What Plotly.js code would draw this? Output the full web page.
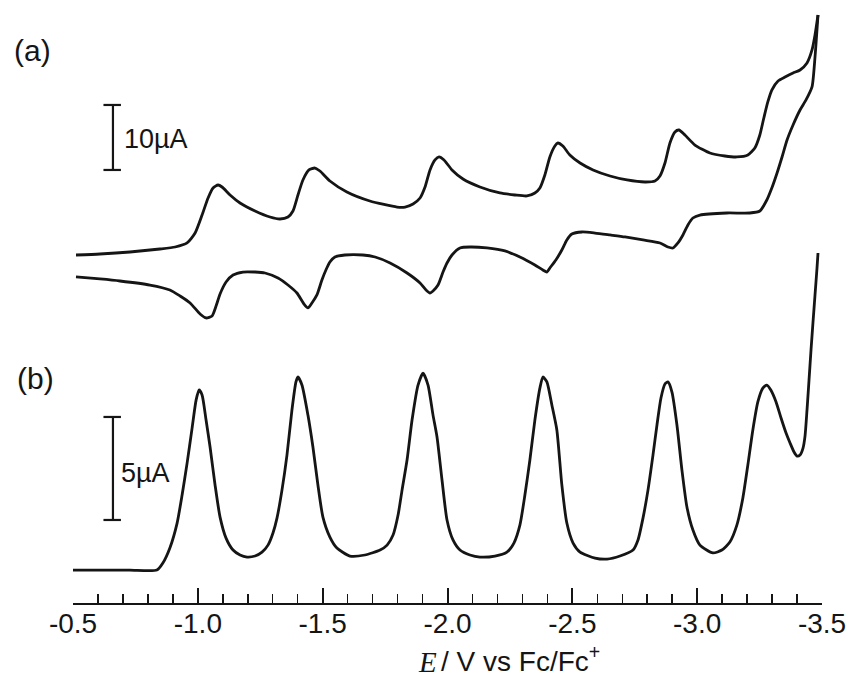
<!DOCTYPE html>
<html>
<head>
<meta charset="utf-8">
<script src="https://cdn.plot.ly/plotly-3.0.1.min.js"></script>
<style>html,body{margin:0;padding:0;background:#fff;}#chart{width:854px;height:677px;}</style>
</head>
<body>
<div id="chart"></div>
<script>
// ---- Data (E in V vs Fc/Fc+, currents in µA) ----
const tickValues = [-0.5, -1.0, -1.5, -2.0, -2.5, -3.0, -3.5];
const tickLabels = ['-0.5', '-1.0', '-1.5', '-2.0', '-2.5', '-3.0', '-3.5'];

// (a) Cyclic voltammogram, forward (cathodic) scan
const cvForwardE = [-0.512,-0.608,-0.728,-0.848,-0.909,-0.957,-0.989,-1.017,-1.041,-1.061,
  -1.081,-1.097,-1.129,-1.169,-1.229,-1.289,-1.329,-1.361,-1.381,-1.401,
  -1.421,-1.445,-1.469,-1.489,-1.529,-1.597,-1.689,-1.798,-1.830,-1.862,
  -1.890,-1.910,-1.930,-1.950,-1.966,-1.986,-2.018,-2.062,-2.130,-2.210,
  -2.270,-2.318,-2.350,-2.370,-2.390,-2.410,-2.430,-2.442,-2.462,-2.490,
  -2.531,-2.583,-2.651,-2.719,-2.791,-2.831,-2.851,-2.871,-2.891,-2.911,
  -2.927,-2.951,-2.991,-3.051,-3.111,-3.159,-3.203,-3.231,-3.251,-3.267,
  -3.283,-3.299,-3.324,-3.352,-3.384,-3.412,-3.440,-3.460,-3.472,-3.484];
const cvForwardI = [0,0.15,0.46,0.92,1.23,1.85,3.38,6.15,8.77,10.31,
  10.77,10.46,9.23,8.0,6.77,5.85,5.54,5.85,6.77,9.23,
  11.54,13.08,13.38,12.92,11.38,9.69,8.31,7.38,7.38,7.85,
  8.77,10.46,13.08,14.62,15.08,14.62,13.08,11.69,10.46,9.54,
  9.23,9.08,9.54,10.31,12.31,15.08,16.77,17.23,16.77,15.38,
  14.15,13.08,12.15,11.54,11.23,11.38,12.15,14.15,17.23,18.92,
  19.23,18.46,16.92,15.69,15.23,15.08,15.38,16.46,18.46,21.08,
  23.54,25.38,26.77,27.38,28.0,28.46,29.54,31.54,33.85,36.92];

// (a) Cyclic voltammogram, reverse (anodic) scan
const cvReverseE = [-3.484,-3.472,-3.460,-3.436,-3.412,-3.384,-3.360,-3.340,-3.320,-3.299,
  -3.279,-3.251,-3.211,-3.119,-3.011,-2.983,-2.963,-2.943,-2.923,-2.903,
  -2.883,-2.851,-2.783,-2.711,-2.651,-2.591,-2.539,-2.498,-2.478,-2.458,
  -2.434,-2.410,-2.398,-2.382,-2.350,-2.290,-2.230,-2.158,-2.090,-2.050,
  -2.018,-1.998,-1.982,-1.962,-1.942,-1.930,-1.914,-1.890,-1.838,-1.770,
  -1.710,-1.661,-1.589,-1.549,-1.529,-1.513,-1.497,-1.477,-1.457,-1.441,
  -1.425,-1.397,-1.361,-1.321,-1.269,-1.229,-1.181,-1.141,-1.113,-1.089,
  -1.073,-1.057,-1.033,-1.009,-0.969,-0.929,-0.888,-0.808,-0.688,-0.608,-0.512];
const cvReverseI = [36.92,30.46,25.85,23.85,22.31,20.0,17.69,15.08,12.62,10.31,
  8.46,6.77,6.46,6.46,6.15,5.69,4.62,3.08,1.85,1.08,
  1.23,1.85,2.31,2.77,3.08,3.38,3.54,3.23,2.31,0.77,
  -0.77,-2.0,-2.62,-2.31,-1.54,-0.31,0.62,1.08,1.23,1.08,
  0,-1.23,-2.62,-4.62,-5.54,-5.85,-5.38,-4.31,-2.77,-1.23,
  -0.31,0,0,-0.31,-1.08,-2.31,-3.85,-6.15,-7.38,-8.15,
  -7.54,-5.85,-4.62,-3.54,-2.77,-2.62,-2.62,-3.08,-4.15,-6.0,
  -7.85,-9.38,-9.69,-9.08,-7.38,-6.31,-5.38,-4.62,-4.0,-3.69,-3.38];

// (b) Differential pulse voltammogram
const dpvE = [-0.500,-0.608,-0.728,-0.836,-0.860,-0.888,-0.917,-0.937,-0.957,-0.977,
  -0.993,-1.005,-1.017,-1.033,-1.049,-1.069,-1.089,-1.113,-1.141,-1.169,
  -1.197,-1.229,-1.257,-1.281,-1.301,-1.317,-1.337,-1.357,-1.377,-1.393,
  -1.401,-1.417,-1.441,-1.461,-1.481,-1.501,-1.529,-1.557,-1.609,-1.669,
  -1.730,-1.758,-1.782,-1.802,-1.818,-1.838,-1.858,-1.882,-1.902,-1.922,
  -1.942,-1.958,-1.978,-1.998,-2.022,-2.050,-2.090,-2.130,-2.190,-2.238,
  -2.266,-2.290,-2.310,-2.330,-2.350,-2.370,-2.382,-2.398,-2.418,-2.438,
  -2.458,-2.478,-2.503,-2.531,-2.591,-2.639,-2.691,-2.743,-2.763,-2.783,
  -2.803,-2.823,-2.839,-2.855,-2.871,-2.883,-2.899,-2.919,-2.939,-2.959,
  -2.983,-3.011,-3.063,-3.099,-3.131,-3.159,-3.183,-3.203,-3.223,-3.243,
  -3.263,-3.279,-3.295,-3.316,-3.336,-3.356,-3.372,-3.388,-3.400,-3.412,
  -3.424,-3.432,-3.440,-3.448,-3.456,-3.464,-3.472,-3.480,-3.484];
const dpvI = [0,0,0,0,0.34,1.07,2.28,3.64,5.19,6.89,
  8.25,8.74,8.50,7.28,5.97,4.13,2.57,1.55,0.97,0.73,
  0.63,0.68,0.87,1.21,1.80,2.52,3.88,5.58,7.77,9.13,
  9.37,8.98,7.52,5.97,4.13,2.57,1.60,1.07,0.68,0.73,
  0.97,1.21,1.70,2.67,3.88,5.34,7.28,8.98,9.56,8.98,
  7.52,6.46,4.37,2.43,1.46,0.97,0.73,0.63,0.68,0.87,
  1.31,2.18,3.64,5.34,7.28,8.83,9.37,9.13,8.01,6.80,
  4.13,2.28,1.31,0.87,0.58,0.53,0.68,0.97,1.46,2.52,
  3.88,5.58,7.04,8.35,9.03,9.13,8.64,7.04,4.85,3.06,
  1.94,1.21,0.83,0.97,1.36,2.18,3.50,5.10,6.80,8.16,
  8.83,8.98,8.74,8.16,7.38,6.65,6.17,5.73,5.53,5.58,
  5.92,6.50,7.77,9.22,10.68,12.04,13.35,14.66,15.39];

// Scale bars (µA)
const cvScaleBar = 10;   // (a)
const dpvScaleBar = 5;   // (b)
const cvScaleLabel = '10µA';
const dpvScaleLabel = '5µA';

// ---- Styling ----
const ink = '#151515';
const sans = 'Liberation Sans, Arial, Helvetica, sans-serif';
const serif = 'Liberation Serif, Times New Roman, serif';
const lineStyle = {color: ink, width: 2.8, shape: 'spline', smoothing: 0.6};

const traces = [
  {x: cvForwardE, y: cvForwardI, yaxis: 'y2', mode: 'lines', line: lineStyle, hoverinfo: 'skip'},
  {x: cvReverseE, y: cvReverseI, yaxis: 'y2', mode: 'lines', line: lineStyle, hoverinfo: 'skip'},
  {x: dpvE, y: dpvI, yaxis: 'y', mode: 'lines', line: lineStyle, hoverinfo: 'skip'}
];

// scale-bar geometry
const barX = -0.660, capL = -0.622, capR = -0.692;
const cvBarTop = 23.08, dpvBarTop = 7.43;
function scaleBar(yref, top, len) {
  const s = {type: 'line', xref: 'x', yref: yref, line: {color: ink, width: 2.2}};
  return [
    Object.assign({}, s, {x0: barX, x1: barX, y0: top - len, y1: top}),
    Object.assign({}, s, {x0: capL, x1: capR, y0: top, y1: top}),
    Object.assign({}, s, {x0: capL, x1: capR, y0: top - len, y1: top - len})
  ];
}

const layout = {
  width: 854, height: 677,
  margin: {l: 73, r: 32, t: 0, b: 74},
  paper_bgcolor: '#fff', plot_bgcolor: '#fff',
  showlegend: false,
  xaxis: {
    range: [-0.5, -3.5],
    showgrid: false, zeroline: false,
    showline: true, linecolor: ink, linewidth: 2,
    ticks: 'inside', ticklen: 15, tickwidth: 2, tickcolor: ink,
    tickvals: tickValues, ticktext: tickLabels,
    tickfont: {family: sans, size: 28, color: ink},
    ticklabelstandoff: -6,
    minor: {tick0: -0.5, dtick: 0.1, ticks: 'inside', ticklen: 9, tickwidth: 1.5, tickcolor: ink, showgrid: false},
    fixedrange: true
  },
  yaxis: {range: [-1.6, 27.67], visible: false, fixedrange: true},
  yaxis2: {range: [-53.54, 39.23], overlaying: 'y', visible: false, fixedrange: true},
  shapes: [].concat(scaleBar('y2', cvBarTop, cvScaleBar), scaleBar('y', dpvBarTop, dpvScaleBar)),
  annotations: [
    {text: '(a)', xref: 'paper', yref: 'paper', x: -0.082, y: 0.917, xanchor: 'left', yanchor: 'middle',
     showarrow: false, font: {family: sans, size: 30, color: ink}},
    {text: '(b)', xref: 'paper', yref: 'paper', x: -0.077, y: 0.373, xanchor: 'left', yanchor: 'middle',
     showarrow: false, font: {family: sans, size: 30, color: ink}},
    {text: cvScaleLabel, xref: 'paper', yref: 'paper', x: 0.066, y: 0.769, xanchor: 'left', yanchor: 'middle',
     showarrow: false, font: {family: sans, size: 27, color: ink}},
    {text: dpvScaleLabel, xref: 'paper', yref: 'paper', x: 0.062, y: 0.216, xanchor: 'left', yanchor: 'middle',
     showarrow: false, font: {family: sans, size: 27, color: ink}},
    {text: '<i>E</i>', xref: 'paper', yref: 'paper', x: 0.458, y: -0.098, xanchor: 'left', yanchor: 'middle',
     showarrow: false, font: {family: serif, size: 29, color: ink}},
    {text: '/ V vs Fc/Fc<sup>+</sup>', xref: 'paper', yref: 'paper', x: 0.489, y: -0.093, xanchor: 'left', yanchor: 'middle',
     showarrow: false, font: {family: sans, size: 28, color: ink}}
  ]
};

Plotly.newPlot('chart', traces, layout, {displayModeBar: false, staticPlot: true});
</script>
</body>
</html>
